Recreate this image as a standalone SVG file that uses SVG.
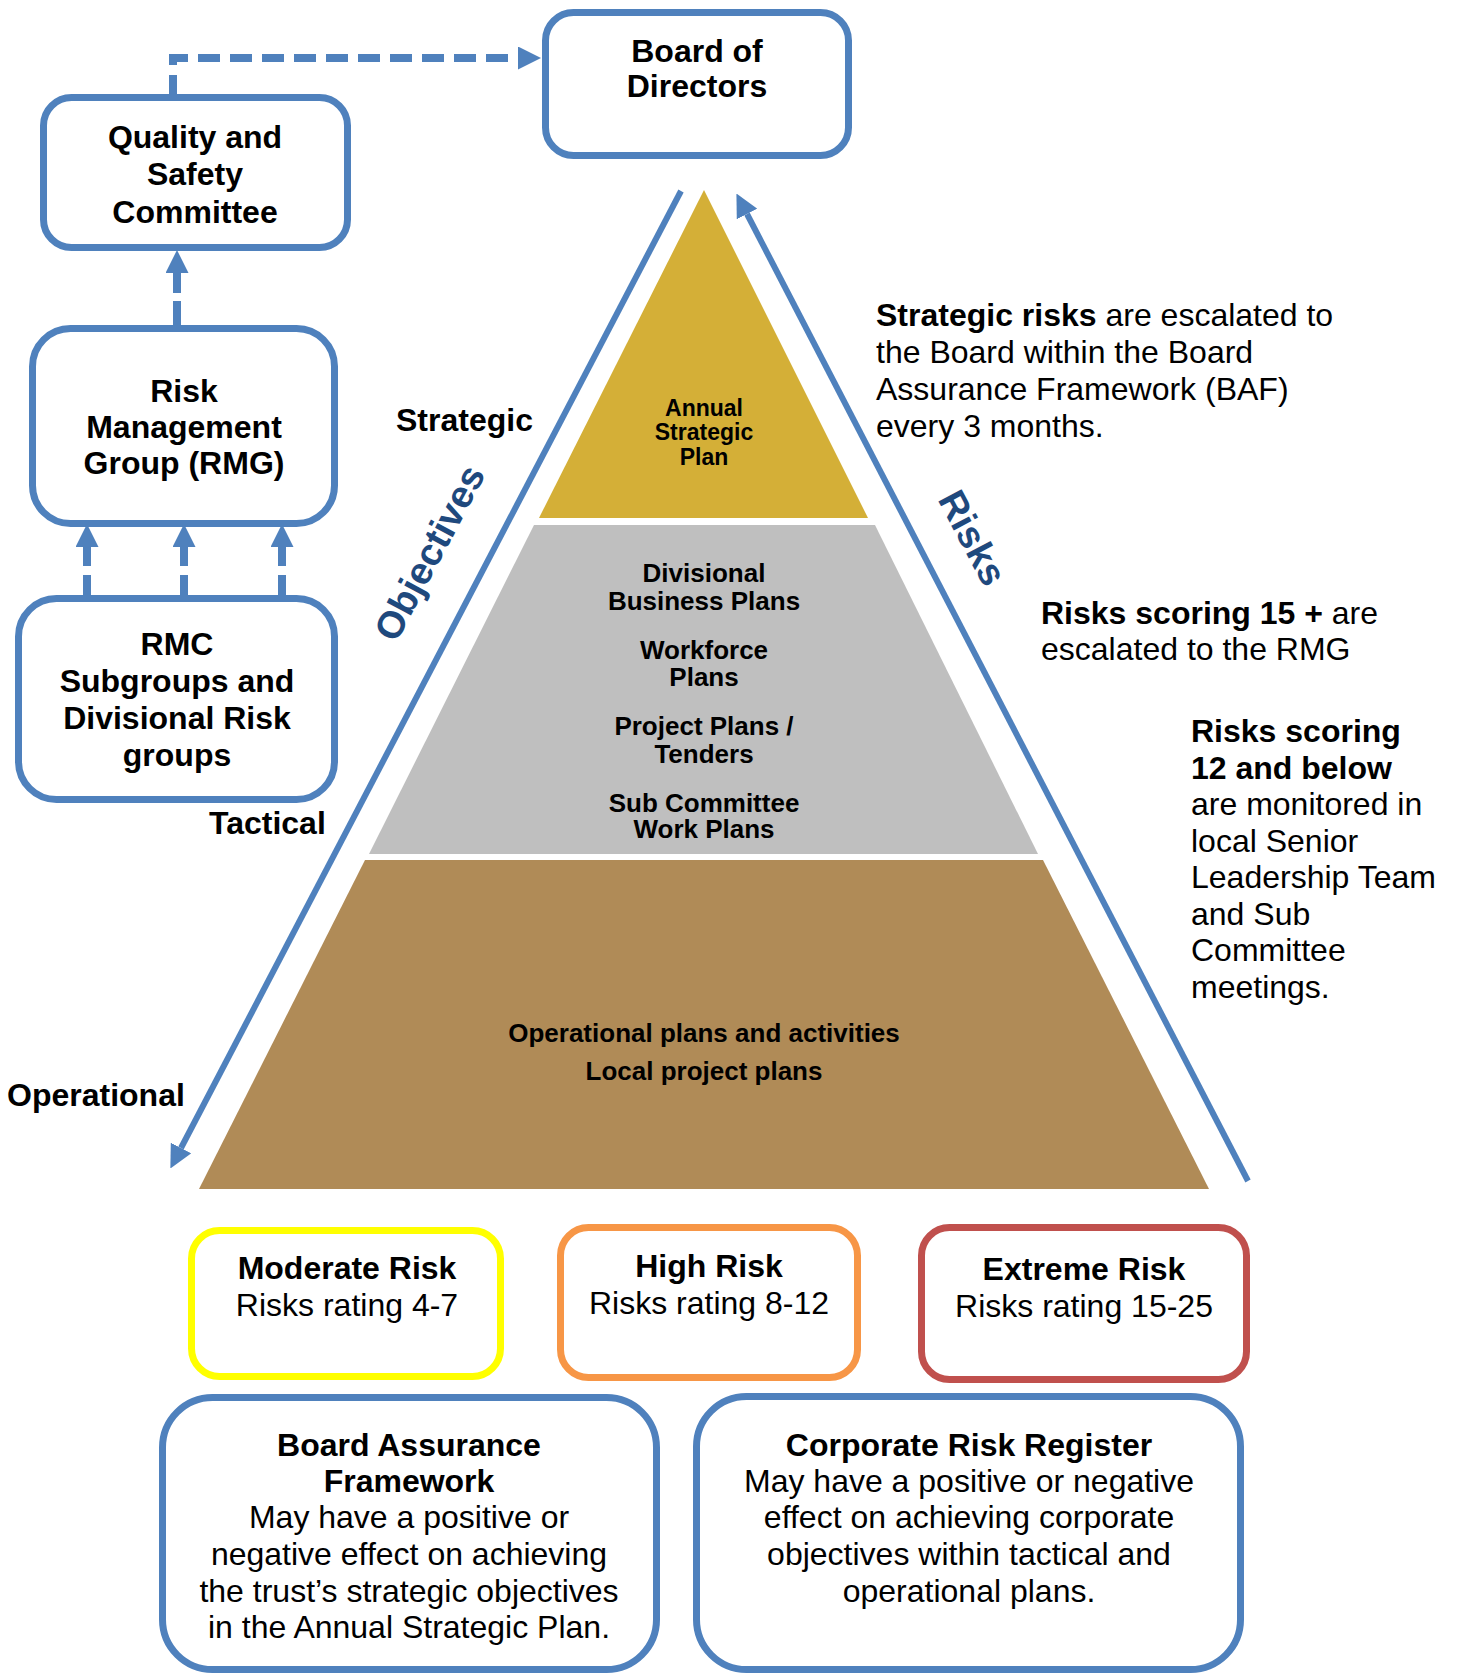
<svg xmlns="http://www.w3.org/2000/svg" width="1457" height="1674" viewBox="0 0 1457 1674">
<defs>
<style>
text{font-family:"Liberation Sans",Arial,sans-serif;fill:#000}
.b{font-weight:bold}
.lbl{font-size:32px;font-weight:bold;text-anchor:middle}
.t32{font-size:32px}
.c{text-anchor:middle}
.box{fill:#fff;stroke:#4F81BD;stroke-width:7}
.conn{stroke:#4F81BD;fill:none;stroke-width:8}
.side{stroke:#4F81BD;fill:none;stroke-width:6}
.dk{fill:#1F497D;font-weight:bold;font-size:38px}
</style>
<marker id="ah" viewBox="0 0 23 23" refX="0" refY="11.5" markerWidth="23" markerHeight="23" markerUnits="userSpaceOnUse" orient="auto">
<path d="M0,0 L23,11.5 L0,23 Z" fill="#4F81BD"/>
</marker>
</defs>

<g id="pyramid">
<polygon points="704,190 539,518 868,518" fill="#D4AF37"/>
<polygon points="534,525 875,525 1038,854 369,854" fill="#BFBFBF"/>
<polygon points="365,860 1043,860 1209,1189 199,1189" fill="#B08B57"/>
<text class="b c" font-size="23"><tspan x="704" y="416">Annual</tspan><tspan x="704" y="440">Strategic</tspan><tspan x="704" y="465">Plan</tspan></text>
<text class="b c" font-size="26"><tspan x="704" y="582">Divisional</tspan><tspan x="704" y="610">Business Plans</tspan><tspan x="704" y="659">Workforce</tspan><tspan x="704" y="686">Plans</tspan><tspan x="704" y="735">Project Plans /</tspan><tspan x="704" y="763">Tenders</tspan><tspan x="704" y="812">Sub Committee</tspan><tspan x="704" y="838">Work Plans</tspan></text>
<text class="b c" font-size="26"><tspan x="704" y="1042">Operational plans and activities</tspan><tspan x="704" y="1080">Local project plans</tspan></text>
</g>

<g id="connectors">
<path class="conn" d="M173,97 L173,58 L518,58" stroke-dasharray="22 10" marker-end="url(#ah)"/>
<path class="conn" d="M177,325 L177,273" stroke-dasharray="24 8" marker-end="url(#ah)"/>
<path class="conn" d="M87,595 L87,547" stroke-dasharray="20 9" marker-end="url(#ah)"/>
<path class="conn" d="M184,595 L184,547" stroke-dasharray="20 9" marker-end="url(#ah)"/>
<path class="conn" d="M282,595 L282,547" stroke-dasharray="20 9" marker-end="url(#ah)"/>
<path class="side" d="M681,191 L181,1148" marker-end="url(#ah)"/>
<path class="side" d="M1248,1181 L747,214" marker-end="url(#ah)"/>
</g>

<g id="board">
<rect class="box" x="545.5" y="12.5" width="303" height="143" rx="28"/>
<text class="lbl"><tspan x="697" y="62">Board of</tspan><tspan x="697" y="97">Directors</tspan></text>
</g>
<g id="quality">
<rect class="box" x="43.5" y="97.5" width="304" height="150" rx="28"/>
<text class="lbl"><tspan x="195" y="148">Quality and</tspan><tspan x="195" y="185">Safety</tspan><tspan x="195" y="223">Committee</tspan></text>
</g>
<g id="rmg">
<rect class="box" x="32.5" y="328.5" width="302" height="195" rx="38"/>
<text class="lbl"><tspan x="184" y="402">Risk</tspan><tspan x="184" y="438">Management</tspan><tspan x="184" y="474">Group (RMG)</tspan></text>
</g>
<g id="rmc">
<rect class="box" x="18.5" y="598.5" width="316" height="201" rx="38"/>
<text class="lbl"><tspan x="177" y="655">RMC</tspan><tspan x="177" y="692">Subgroups and</tspan><tspan x="177" y="729">Divisional Risk</tspan><tspan x="177" y="766">groups</tspan></text>
</g>

<g id="level-labels">
<text class="t32 b" x="396" y="431">Strategic</text>
<text class="t32 b" x="209" y="834">Tactical</text>
<text class="t32 b" x="7" y="1106">Operational</text>
<text class="dk c" transform="translate(441,559) rotate(-62)">Objectives</text>
<text class="dk c" transform="translate(961,544) rotate(62)">Risks</text>
</g>

<g id="notes">
<text class="t32"><tspan x="876" y="326"><tspan class="b">Strategic risks</tspan> are escalated to</tspan><tspan x="876" y="363">the Board within the Board</tspan><tspan x="876" y="400">Assurance Framework (BAF)</tspan><tspan x="876" y="437">every 3 months.</tspan></text>
<text class="t32"><tspan x="1041" y="624"><tspan class="b">Risks scoring 15 +</tspan> are</tspan><tspan x="1041" y="660">escalated to the RMG</tspan></text>
<text class="t32"><tspan x="1191" y="742" class="b">Risks scoring</tspan><tspan x="1191" y="779" class="b">12 and below</tspan><tspan x="1191" y="815">are monitored in</tspan><tspan x="1191" y="852">local Senior</tspan><tspan x="1191" y="888">Leadership Team</tspan><tspan x="1191" y="925">and Sub</tspan><tspan x="1191" y="961">Committee</tspan><tspan x="1191" y="998">meetings.</tspan></text>
</g>

<g id="moderate">
<rect x="191.5" y="1230.5" width="309" height="146" rx="28" fill="#fff" stroke="#FFFF00" stroke-width="7"/>
<text class="t32 c"><tspan x="347" y="1279" class="b">Moderate Risk</tspan><tspan x="347" y="1316">Risks rating 4-7</tspan></text>
</g>
<g id="high">
<rect x="560.5" y="1227.5" width="297" height="150" rx="28" fill="#fff" stroke="#F79646" stroke-width="7"/>
<text class="t32 c"><tspan x="709" y="1277" class="b">High Risk</tspan><tspan x="709" y="1314">Risks rating 8-12</tspan></text>
</g>
<g id="extreme">
<rect x="921.5" y="1227.5" width="325" height="152" rx="28" fill="#fff" stroke="#C0504D" stroke-width="7"/>
<text class="t32 c"><tspan x="1084" y="1280" class="b">Extreme Risk</tspan><tspan x="1084" y="1317">Risks rating 15-25</tspan></text>
</g>
<g id="baf">
<rect class="box" x="162.5" y="1397.5" width="494" height="272" rx="50"/>
<text class="t32 c"><tspan x="409" y="1456" class="b">Board Assurance</tspan><tspan x="409" y="1492" class="b">Framework</tspan><tspan x="409" y="1528">May have a positive or</tspan><tspan x="409" y="1565">negative effect on achieving</tspan><tspan x="409" y="1602">the trust’s strategic objectives</tspan><tspan x="409" y="1638">in the Annual Strategic Plan.</tspan></text>
</g>
<g id="crr">
<rect class="box" x="696.5" y="1396.5" width="544" height="273" rx="50"/>
<text class="t32 c"><tspan x="969" y="1456" class="b">Corporate Risk Register</tspan><tspan x="969" y="1492">May have a positive or negative</tspan><tspan x="969" y="1528">effect on achieving corporate</tspan><tspan x="969" y="1565">objectives within tactical and</tspan><tspan x="969" y="1602">operational plans.</tspan></text>
</g>
</svg>
